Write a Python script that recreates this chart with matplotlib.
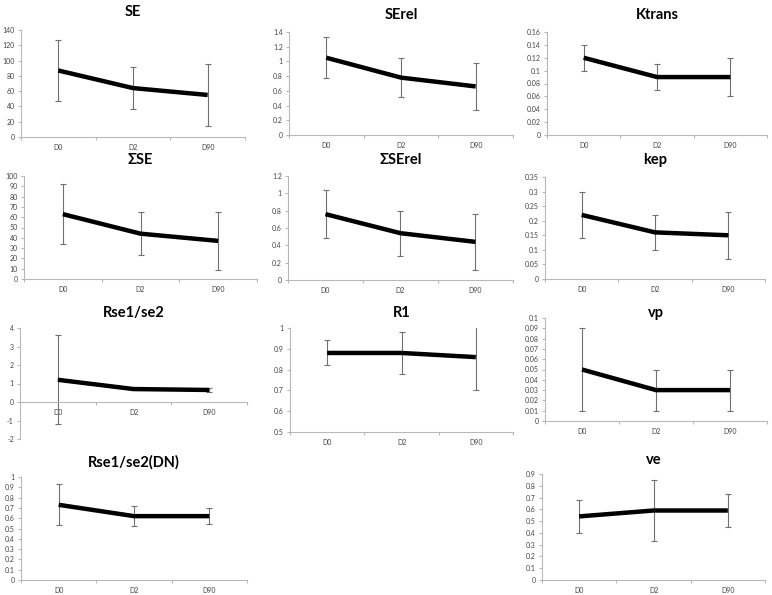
import matplotlib.pyplot as plt
import numpy as np

plt.rcParams['font.family'] = ['Lato', 'DejaVu Sans']

# Time points
days = ['D0', 'D2', 'D90']

# Mean values and error bar half-widths for each parameter
se_mean = [87, 64, 55]
se_err = [40, 28, 40]
serel_mean = [1.05, 0.78, 0.66]
serel_err = [0.28, 0.26, 0.32]
ktrans_mean = [0.12, 0.09, 0.09]
ktrans_err = [0.02, 0.02, 0.03]
sumse_mean = [63, 44, 37]
sumse_err = [29, 21, 28]
sumserel_mean = [0.76, 0.54, 0.44]
sumserel_err = [0.28, 0.26, 0.32]
kep_mean = [0.22, 0.16, 0.15]
kep_err = [0.08, 0.06, 0.08]
rse_mean = [1.2, 0.7, 0.65]
rse_err = [2.4, 0.05, 0.1]
r1_mean = [0.88, 0.88, 0.86]
r1_err = [0.06, 0.10, 0.16]
vp_mean = [0.05, 0.03, 0.03]
vp_err = [0.04, 0.02, 0.02]
rsedn_mean = [0.73, 0.62, 0.62]
rsedn_err = [0.20, 0.10, 0.08]
ve_mean = [0.54, 0.59, 0.59]
ve_err = [0.14, 0.26, 0.14]

W, H = 772, 595
fig = plt.figure(figsize=(W / 100, H / 100), dpi=100)


def panel(title, mean, err, box, ylim, step, title_y, xaxis_at_zero=False):
    # box = (left, top, right, bottom) in pixels
    l, t, r, b = box
    ax = fig.add_axes([l / W, 1 - b / H, (r - l) / W, (b - t) / H])
    x = np.arange(len(days)) + 0.5
    ax.errorbar(x, mean, yerr=err, fmt='none', ecolor='#707070',
                elinewidth=0.8, capsize=2, capthick=0.8, zorder=2)
    ax.plot(x, mean, color='black', lw=3.2, solid_capstyle='butt', zorder=3)
    ax.set_xlim(0, 3)
    ax.set_ylim(*ylim)
    ax.set_yticks(np.round(np.arange(ylim[0], ylim[1] + step / 2, step), 4))
    ax.yaxis.set_major_formatter(plt.FuncFormatter(lambda v, p: f'{v:g}'))
    ax.set_xticks([0, 1, 2, 3])
    ax.set_xticklabels([])
    ax.set_xticks(x, minor=True)
    ax.set_xticklabels(days, minor=True)
    ax.tick_params(axis='x', which='minor', length=0, labelsize=5,
                   colors='#444444', pad=5)
    ax.tick_params(axis='x', which='major', length=2.5, color='#b8b8b8')
    ax.tick_params(axis='y', length=2.5, color='#b8b8b8', labelsize=5,
                   labelcolor='#444444', pad=2)
    for s in ['top', 'right']:
        ax.spines[s].set_visible(False)
    for s in ['left', 'bottom']:
        ax.spines[s].set_color('#b8b8b8')
        ax.spines[s].set_linewidth(0.8)
    if xaxis_at_zero:
        ax.spines['bottom'].set_position(('data', 0))
    fig.text((l + r) / 2 / W, 1 - title_y / H, title, ha='center',
             va='center', fontsize=10.5, fontweight='bold')
    return ax


panel('SE', se_mean, se_err, (21, 30, 245, 137), (0, 140), 20, 12)
panel('SErel', serel_mean, serel_err, (289, 32, 513, 135), (0, 1.4), 0.2, 15)
panel('Ktrans', ktrans_mean, ktrans_err, (547, 32, 767, 135), (0, 0.16), 0.02, 15)
panel('ΣSE', sumse_mean, sumse_err, (24, 176, 257, 279), (0, 100), 10, 160)
panel('ΣSErel', sumserel_mean, sumserel_err, (288, 176, 513, 280), (0, 1.2), 0.2, 160)
panel('kep', kep_mean, kep_err, (545, 177, 765, 279), (0, 0.35), 0.05, 160)
panel('Rse1/se2', rse_mean, rse_err, (20, 328, 247, 439), (-2, 4), 1, 313,
      xaxis_at_zero=True)
panel('R1', r1_mean, r1_err, (290, 328, 513, 432), (0.5, 1), 0.1, 313)
panel('vp', vp_mean, vp_err, (545, 318, 767, 421), (0, 0.1), 0.01, 313)
panel('Rse1/se2(DN)', rsedn_mean, rsedn_err, (21, 477, 247, 580), (0, 1), 0.1, 462)
panel('ve', ve_mean, ve_err, (542, 474, 765, 580), (0, 0.9), 0.1, 460)

fig.savefig('out.png', dpi=100, facecolor='white')
